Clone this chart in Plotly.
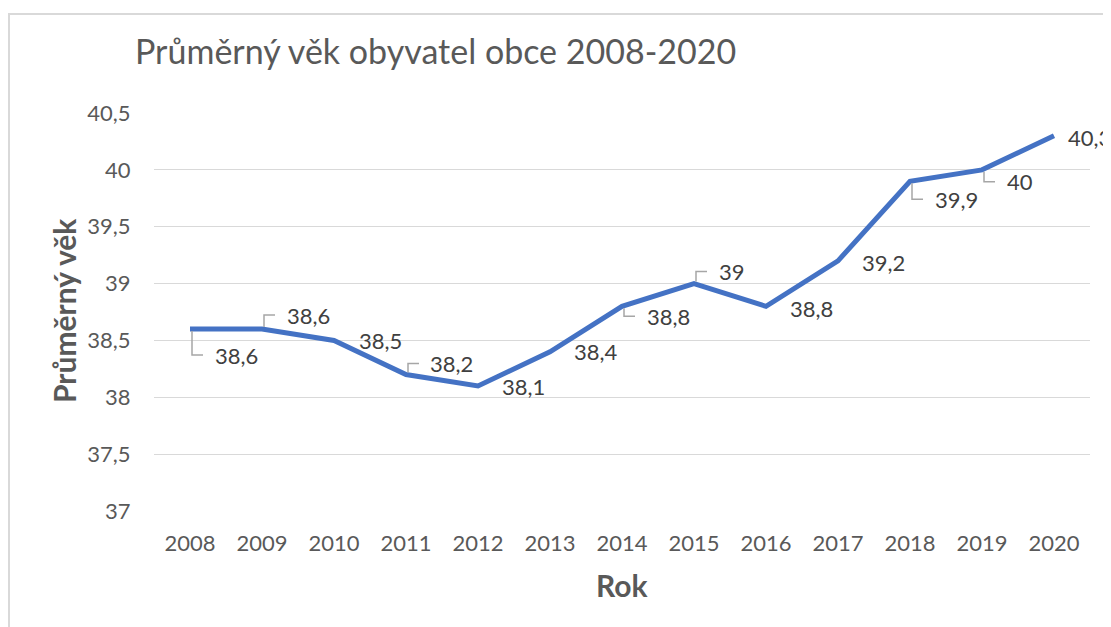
import plotly.graph_objects as go

# ---- data ----
years = [2008, 2009, 2010, 2011, 2012, 2013, 2014, 2015, 2016, 2017, 2018, 2019, 2020]
avg_age = [38.6, 38.6, 38.5, 38.2, 38.1, 38.4, 38.8, 39.0, 38.8, 39.2, 39.9, 40.0, 40.3]
value_labels = ["38,6", "38,6", "38,5", "38,2", "38,1", "38,4", "38,8", "39", "38,8", "39,2", "39,9", "40", "40,3"]
y_tick_vals = [37, 37.5, 38, 38.5, 39, 39.5, 40, 40.5]
y_tick_text = ["37", "37,5", "38", "38,5", "39", "39,5", "40", "40,5"]
title_text = "Průměrný věk obyvatel obce 2008-2020"
y_title = "Průměrný věk"
x_title = "Rok"

# ---- label placement (pixel offsets from point: dx, dy up-positive, leader line) ----
label_style = [
    (23, -26, True), (23, 14, True), (23, 0, False), (22, 11, True), (22, -1, False),
    (22, 0, False), (23, -10, True), (23, 12, True), (22, -2, False), (22, -2, False),
    (23, -18, True), (23, -12, True), (12, -2, False),
]

OFF = 8  # page body margin
W, H = 1111 - OFF, 627 - OFF
L, R, T, B = 154 - OFF, 1090 - OFF, 113 - OFF, 511 - OFF
FONT = "Lato"
GREY = "#595959"

def px_x(px):
    return (px - OFF - L) / (R - L)

def px_y(py):
    return (B - (py - OFF)) / (B - T)

fig = go.Figure()
fig.add_trace(go.Scatter(
    x=years, y=avg_age, mode="lines",
    line=dict(color="#4472C4", width=5),
    hoverinfo="skip", showlegend=False, cliponaxis=False,
))

annotations = []
shapes = []
for yr, v, lab, (dx, dy, leader) in zip(years, avg_age, value_labels, label_style):
    annotations.append(dict(
        x=yr, y=v, xref="x", yref="y", text=lab, showarrow=False,
        xanchor="left", yanchor="middle", xshift=dx, yshift=dy,
        font=dict(family=FONT, size=22, color="#404040"),
    ))
    if leader:
        start = -2 if dy < 0 else 2
        shapes.append(dict(
            type="path", xref="x", yref="y", xsizemode="pixel", ysizemode="pixel",
            xanchor=yr, yanchor=v,
            path=f"M 2,{start} L 2,{dy} L 13,{dy}",
            line=dict(color="#a6a6a6", width=1.5),
        ))

# axis titles
annotations.append(dict(
    x=px_x(64), y=px_y(311), xref="paper", yref="paper", text=f"<b>{y_title}</b>",
    showarrow=False, textangle=-90, xanchor="center", yanchor="middle",
    font=dict(family=FONT, size=30, color=GREY),
))
annotations.append(dict(
    x=px_x(622), y=px_y(585), xref="paper", yref="paper", text=f"<b>{x_title}</b>",
    showarrow=False, xanchor="center", yanchor="middle",
    font=dict(family=FONT, size=30, color=GREY),
))

# chart area border
shapes.append(dict(
    type="rect", xref="paper", yref="paper",
    x0=px_x(9), x1=px_x(1130), y0=px_y(650), y1=px_y(14),
    line=dict(color="#d9d9d9", width=2), fillcolor="rgba(0,0,0,0)", layer="below",
))

fig.update_layout(
    width=W, height=H,
    margin=dict(l=L, r=W - R, t=T, b=H - B, pad=0),
    paper_bgcolor="white", plot_bgcolor="white",
    title=dict(text=title_text, xref="container", yref="container",
               x=(135 - OFF) / W, y=1 - (52 - OFF) / H, xanchor="left", yanchor="middle",
               font=dict(family=FONT, size=34, color=GREY)),
    xaxis=dict(range=[2007.5, 2020.5], tickvals=years, ticktext=[str(y) for y in years],
               showgrid=False, zeroline=False, showline=False,
               tickfont=dict(family=FONT, size=22, color=GREY),
               ticks="outside", ticklen=13, tickcolor="rgba(0,0,0,0)", fixedrange=True),
    yaxis=dict(range=[37, 40.5], tickvals=y_tick_vals, ticktext=y_tick_text,
               showgrid=True, gridcolor="#d9d9d9", gridwidth=1.3, zeroline=False, showline=False,
               tickfont=dict(family=FONT, size=22, color=GREY),
               ticks="outside", ticklen=18, tickcolor="rgba(0,0,0,0)", fixedrange=True),
    annotations=annotations, shapes=shapes,
    font=dict(family=FONT),
)

fig.write_html("out.html", config={"displayModeBar": False})
